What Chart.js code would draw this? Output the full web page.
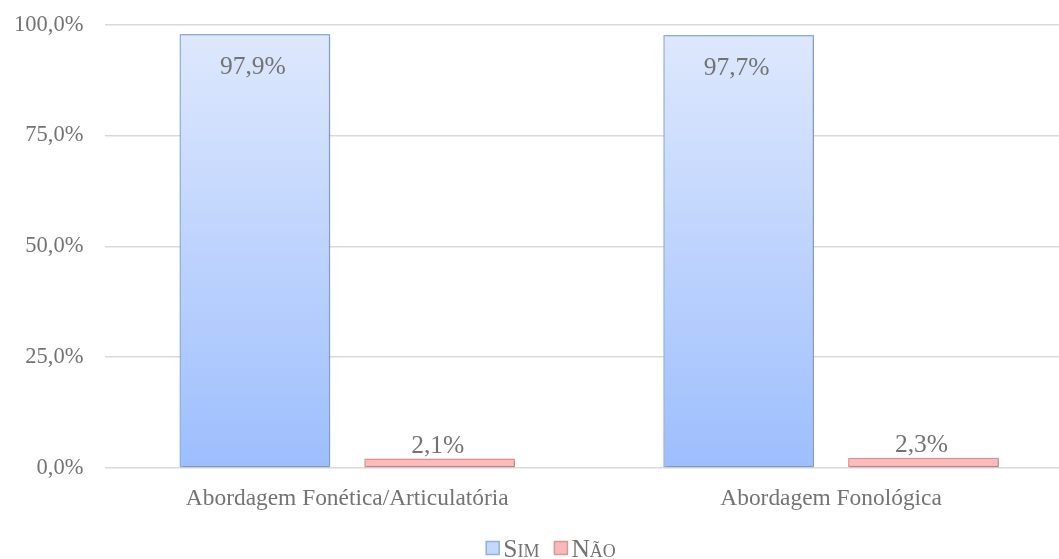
<!DOCTYPE html>
<html>
<head>
<meta charset="utf-8">
<script src="https://cdn.jsdelivr.net/npm/chart.js@4/dist/chart.umd.min.js"></script>
<style>
    html, body { margin: 0; padding: 0; background: #fff; overflow: hidden; }
    /* o gráfico original está cortado à direita: a área de plotagem passa da janela */
    #wrap { width: 1073px; height: 559px; position: relative; }
</style>
</head>
<body>
<div id="wrap"><canvas id="chart"></canvas></div>
<script>
const categories = ['Abordagem Fonética/Articulatória', 'Abordagem Fonológica'];
const simValues = [97.9, 97.7];
const naoValues = [2.1, 2.3];
const seriesNames = ['Sim', 'Não'];
const yTicks = [0, 25, 50, 75, 100];

const textColor = '#737373';
const serif = '"Liberation Serif", "Times New Roman", serif';

function fmt(v) {
    return v.toFixed(1).replace('.', ',') + '%';
}

// gradiente vertical das barras azuis
function simFill(context) {
    const chart = context.chart;
    const area = chart.chartArea;
    if (!area) return '#c6d9fc';
    const g = chart.ctx.createLinearGradient(0, area.top, 0, area.bottom);
    g.addColorStop(0, '#dfe9fd');
    g.addColorStop(1, '#9dbefd');
    return g;
}

// rótulos de valor (sem plugin externo)
const valueLabels = {
    id: 'valueLabels',
    afterDatasetsDraw(chart) {
        const ctx = chart.ctx;
        ctx.save();
        ctx.fillStyle = textColor;
        ctx.font = '25.5px ' + serif;
        ctx.textAlign = 'center';
        ctx.textBaseline = 'alphabetic';
        chart.data.datasets.forEach((ds, i) => {
            const meta = chart.getDatasetMeta(i);
            meta.data.forEach((bar, j) => {
                const y = i === 0 ? bar.y + 40 : bar.y - 6;
                ctx.fillText(fmt(ds.data[j]), bar.x - 2, y);
            });
        });
        ctx.restore();
    }
};

// sombra leve nas barras
const barShadow = {
    id: 'barShadow',
    beforeDatasetsDraw(chart) {
        const ctx = chart.ctx;
        ctx.save();
        ctx.shadowColor = 'rgba(0,0,0,0.22)';
        ctx.shadowBlur = 3;
        ctx.shadowOffsetX = 1;
        ctx.shadowOffsetY = 1;
    },
    afterDatasetsDraw(chart) {
        chart.ctx.restore();
    }
};

// legenda em versalete, desenhada à mão
const smallCapsLegend = {
    id: 'smallCapsLegend',
    afterDraw(chart) {
        const ctx = chart.ctx;
        const box = 13;
        const gap = 4;
        const itemGap = 15;
        const cy = 548;
        ctx.save();
        ctx.font = '25.5px ' + serif;
        ctx.fontVariantCaps = 'small-caps';
        ctx.textBaseline = 'alphabetic';
        const items = chart.data.datasets.map(ds => ({
            text: ds.label,
            fill: ds.legendFill,
            stroke: ds.borderColor,
            w: ctx.measureText(ds.label).width
        }));
        const total = items.reduce((s, it) => s + box + gap + it.w, 0) + itemGap * (items.length - 1);
        let x = 551 - total / 2;
        items.forEach(it => {
            ctx.fillStyle = it.fill;
            ctx.fillRect(x, cy - box / 2, box, box);
            ctx.strokeStyle = it.stroke;
            ctx.lineWidth = 1.5;
            ctx.strokeRect(x, cy - box / 2, box, box);
            ctx.fillStyle = textColor;
            ctx.fillText(it.text, x + box + gap, cy + 9);
            x += box + gap + it.w + itemGap;
        });
        ctx.restore();
    }
};

new Chart(document.getElementById('chart'), {
    type: 'bar',
    data: {
        labels: categories,
        datasets: [
            {
                label: seriesNames[0],
                data: simValues,
                backgroundColor: simFill,
                borderColor: '#8fb0e0',
                borderWidth: 1.5,
                borderSkipped: false,
                legendFill: '#c5d8fb',
                barPercentage: 0.816,
                categoryPercentage: 0.764
            },
            {
                label: seriesNames[1],
                data: naoValues,
                backgroundColor: '#ffbaba',
                borderColor: '#d99695',
                borderWidth: 1.5,
                borderSkipped: false,
                legendFill: '#f7b8b8',
                barPercentage: 0.816,
                categoryPercentage: 0.764
            }
        ]
    },
    options: {
        responsive: true,
        maintainAspectRatio: false,
        animation: false,
        layout: { padding: { top: 0, right: 0, left: 0, bottom: 37 } },
        plugins: {
            tooltip: { enabled: false },
            legend: { display: false }
        },
        scales: {
            x: {
                grid: { display: false },
                border: { display: false },
                ticks: {
                    color: textColor,
                    font: { family: serif, size: 23.4 },
                    padding: 9
                }
            },
            y: {
                min: 0,
                max: 100,
                border: { display: false },
                grid: { color: '#d9d9d9', lineWidth: 1.5, drawTicks: true, tickLength: 8, tickColor: '#ffffff' },
                afterBuildTicks(axis) {
                    axis.ticks = yTicks.map(v => ({ value: v }));
                },
                ticks: {
                    color: textColor,
                    font: { family: serif, size: 22.5, lineHeight: 0.95 },
                    padding: 14,
                    callback: v => fmt(v)
                }
            }
        }
    },
    plugins: [barShadow, valueLabels, smallCapsLegend]
});
</script>
</body>
</html>
